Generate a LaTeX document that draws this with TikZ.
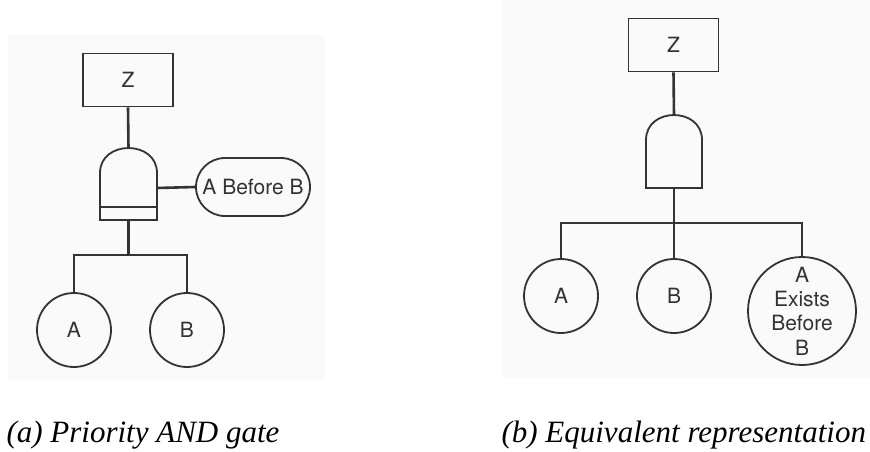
\documentclass[tikz,border=0pt]{standalone}
\usepackage{fontspec}
\setmainfont{Liberation Serif}
\setsansfont{TeX Gyre Heros}
\usepackage{xcolor}
\usetikzlibrary{positioning,shapes.misc}

\definecolor{ink}{gray}{0.2}
\definecolor{panel}{gray}{0.98}

\tikzset{
    lbl/.style={font=\sffamily\fontsize{21}{24.3}\selectfont, text=ink},
    topbox/.style={lbl, draw=ink, line width=1.8pt, rectangle, minimum width=90pt, minimum height=53pt},
    basic/.style={lbl, draw=ink, line width=1.8pt, circle, inner sep=0pt, minimum size=74pt},
    cond/.style={lbl, draw=ink, line width=1.8pt, rounded rectangle, minimum width=118pt, minimum height=58pt, inner sep=2pt},
    wire/.style={draw=ink, line width=2.6pt},
    gateline/.style={draw=ink, line width=1.8pt},
    caption/.style={font=\itshape\fontsize{31}{36}\selectfont, anchor=base west}
}

\begin{document}
\begin{tikzpicture}[x=1pt,y=-1pt]
    \useasboundingbox (0,0) rectangle (870,452);

    % scanned page background
    \fill[panel] (8,35) rectangle (325,380);
    \fill[panel] (503,0) rectangle (870,378);

    % (a) Priority AND gate
    \node[topbox] (zA) at (128,80) {Z};
    \draw[gateline] (100,220) -- (100,173) .. controls (100,139.7) and (157,139.7) .. (157,173) -- (157,220) -- cycle;
    \draw[gateline] (100,207) -- (157,207);
    \coordinate (gA-top) at (128.5,148);
    \coordinate (gA-bot) at (128.5,220);
    \coordinate (gA-right) at (157,188);
    \node[cond] (pri) at (253,187) {A Before B};
    \node[basic] (evA) at (74,330) {A};
    \node[basic] (evB) at (187,330) {B};
    \coordinate (jA) at (128.5,255);

    \draw[wire] (zA.south) -- (gA-top);
    \draw[wire] (gA-right) -- (pri.west);
    \draw[wire] (gA-bot) -- (jA);
    \draw[wire] (evA.north) |- (jA) -| (evB.north);

    % (b) Equivalent representation
    \node[topbox] (zB) at (673.5,45) {Z};
    \draw[gateline] (646,188) -- (646,140) .. controls (646,106.7) and (702,106.7) .. (702,140) -- (702,188) -- cycle;
    \coordinate (gB-top) at (674,115);
    \coordinate (gB-bot) at (674,188);
    \node[basic] (evA2) at (561,296) {A};
    \node[basic] (evB2) at (674,296) {B};
    \node[basic, minimum size=108pt, inner sep=-4pt, align=center] (evAB) at (802,311) {A\\Exists\\Before\\B};
    \coordinate (jB) at (674,223);

    \draw[wire] (zB.south) -- (gB-top);
    \draw[wire] (gB-bot) -- (jB);
    \draw[wire] (evA2.north) |- (jB) -| (evAB.north);
    \draw[wire] (jB) -- (evB2.north);

    % captions
    \node[caption] (capA) at (3,442) {(a) Priority AND gate};
    \node[caption] (capB) at (498,442) {(b) Equivalent representation};
\end{tikzpicture}
\end{document}
